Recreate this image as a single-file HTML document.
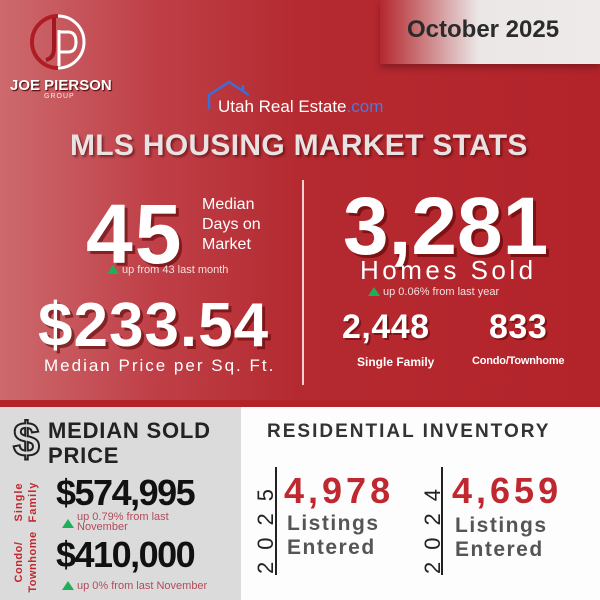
<!DOCTYPE html>
<html><head><style>
*{margin:0;padding:0;box-sizing:border-box}
body{width:600px;height:600px;overflow:hidden;position:relative;font-family:"Liberation Sans",sans-serif}
.a{position:absolute;white-space:nowrap}
.top{position:absolute;left:0;top:0;width:600px;height:407px;background:linear-gradient(90deg,#cc6a6e 0%,#c04048 25%,#b42a30 50%,#b3232a 100%)}
.w{color:#fff;font-weight:bold;text-shadow:3px 3px 0 rgba(80,0,0,.55)}
.tri{display:inline-block;width:0;height:0;border-left:6px solid transparent;border-right:6px solid transparent;border-bottom:9px solid #1fae5a;margin-right:3px;vertical-align:-1px}
</style></head><body>
<div class="top"></div>
<div class="a" style="left:380px;top:0;width:220px;height:64px;background:linear-gradient(90deg,rgba(235,232,232,0) 0%,#ebe7e7 45%,#eeeaea 100%);box-shadow:0 4px 6px rgba(0,0,0,.25)"></div>
<div class="a" style="left:407px;top:16px;font-size:24px;font-weight:bold;color:#2b2b2b">October 2025</div>
<!-- logo -->
<svg class="a" style="left:28px;top:12px" width="60" height="60" viewBox="0 0 60 60">
<circle cx="30" cy="30" r="26" fill="none" stroke="#fff" stroke-width="3"/>
<path d="M30 4 A26 26 0 0 0 30 56" fill="none" stroke="#b01c24" stroke-width="4"/>
<path d="M26 6 L26 36 Q26 46 18 48" fill="none" stroke="#a01820" stroke-width="4"/>
<path d="M31 18 L31 54 M31 20 L40 20 Q48 20 48 30 Q48 40 40 40 L31 40" fill="none" stroke="#fff" stroke-width="3"/>
</svg>
<div class="a" style="left:10px;top:77px;font-size:15px;font-weight:bold;color:#fff;text-shadow:1px 1px 1px #400">JOE PIERSON</div>
<div class="a" style="left:44px;top:93px;font-size:7px;color:#eee;letter-spacing:1px">GROUP</div>
<svg class="a" style="left:207px;top:79px" width="50" height="32"><path d="M2 30 L2 16 L22 3 L42 16 M36 6 L36 12" fill="none" stroke="#3a6fd8" stroke-width="2.5"/></svg>
<div class="a" style="left:218px;top:97px;font-size:17px;color:#fff">Utah Real Estate<span style="color:#4a7ae0">.com</span></div>
<div class="a" style="left:70px;top:129px;font-size:30px;font-weight:bold;color:#e8e2e2;letter-spacing:0.3px;text-shadow:2px 2px 2px rgba(60,0,0,.5)">MLS HOUSING MARKET STATS</div>
<div class="a w" style="left:86px;top:186px;font-size:84px;letter-spacing:2px">45</div>
<div class="a" style="left:202px;top:195px;font-size:16px;line-height:20px;color:#fff">Median<br>Days on<br>Market</div>
<div class="a" style="left:107px;top:264px;font-size:11px;color:#f3e0e0"><span class="tri"></span>up from 43 last month</div>
<div class="a w" style="left:38px;top:290px;font-size:62px;letter-spacing:1px">$233.54</div>
<div class="a" style="left:44px;top:356px;font-size:17px;color:#fff;letter-spacing:2px">Median Price per Sq. Ft.</div>
<div class="a" style="left:302px;top:180px;width:2px;height:205px;background:#f0d0d0"></div>
<div class="a w" style="left:343px;top:180px;font-size:82px">3,281</div>
<div class="a" style="left:360px;top:255px;font-size:26px;color:#fff;letter-spacing:3.5px">Homes Sold</div>
<div class="a" style="left:368px;top:286px;font-size:11px;color:#f3e0e0"><span class="tri"></span>up 0.06% from last year</div>
<div class="a w" style="left:342px;top:308px;font-size:34px;letter-spacing:0.5px;text-shadow:2px 2px 0 rgba(80,0,0,.5)">2,448</div>
<div class="a w" style="left:489px;top:308px;font-size:34px;letter-spacing:0.5px;text-shadow:2px 2px 0 rgba(80,0,0,.5)">833</div>
<div class="a" style="left:357px;top:355px;font-size:12px;font-weight:bold;color:#fff">Single Family</div>
<div class="a" style="left:472px;top:355px;font-size:11px;font-weight:bold;color:#fff;letter-spacing:-0.2px">Condo/Townhome</div>
<!-- bottom -->
<div class="a" style="left:0;top:400px;width:600px;height:7px;background:#b3232a"></div>
<div class="a" style="left:0;top:407px;width:241px;height:193px;background:#dcdbdb"></div>
<div class="a" style="left:241px;top:407px;width:359px;height:193px;background:#fdfdfd"></div>
<div class="a" style="left:13px;top:413px;font-size:48px;color:#dcdbdb;-webkit-text-stroke:2px #222;font-weight:bold">$</div>
<div class="a" style="left:48px;top:418px;font-size:22px;line-height:25px;font-weight:bold;color:#222;letter-spacing:0.8px">MEDIAN SOLD<br>PRICE</div>
<div class="a" style="left:12px;top:530px;transform:rotate(-90deg);transform-origin:0 0;font-size:11px;line-height:14px;font-weight:bold;color:#c0282f;letter-spacing:1px;text-align:center;width:56px">Single<br>Family</div>
<div class="a" style="left:12px;top:598px;transform:rotate(-90deg);transform-origin:0 0;font-size:11px;line-height:14px;font-weight:bold;color:#c0282f;letter-spacing:0.5px;text-align:center;width:72px">Condo/<br>Townhome</div>
<div class="a" style="left:56px;top:472px;font-size:36px;font-weight:bold;color:#111;letter-spacing:-1.5px">$574,995</div>
<div class="a" style="left:62px;top:512px;font-size:11px;line-height:10px;color:#b24a5a"><span class="tri" style="vertical-align:-8px"></span><span style="display:inline-block;vertical-align:top">up 0.79% from last<br>November</span></div>
<div class="a" style="left:56px;top:534px;font-size:36px;font-weight:bold;color:#111;letter-spacing:-1.5px">$410,000</div>
<div class="a" style="left:62px;top:580px;font-size:11px;color:#b24a5a"><span class="tri"></span>up 0% from last November</div>
<div class="a" style="left:267px;top:421px;font-size:19px;font-weight:bold;color:#333;letter-spacing:2px">RESIDENTIAL INVENTORY</div>
<div class="a" style="left:253px;top:574px;transform:rotate(-90deg);transform-origin:0 0;font-size:22px;color:#222;letter-spacing:12px">2025</div>
<div class="a" style="left:275px;top:467px;width:2px;height:108px;background:#222"></div>
<div class="a" style="left:284px;top:470px;font-size:36px;font-weight:bold;color:#c0282f;letter-spacing:4px">4,978</div>
<div class="a" style="left:287px;top:512px;font-size:21px;line-height:24px;font-weight:bold;color:#555;letter-spacing:1.5px">Listings<br>Entered</div>
<div class="a" style="left:420px;top:574px;transform:rotate(-90deg);transform-origin:0 0;font-size:22px;color:#222;letter-spacing:12px">2024</div>
<div class="a" style="left:441px;top:467px;width:2px;height:108px;background:#222"></div>
<div class="a" style="left:452px;top:470px;font-size:36px;font-weight:bold;color:#c0282f;letter-spacing:4px">4,659</div>
<div class="a" style="left:455px;top:514px;font-size:21px;line-height:24px;font-weight:bold;color:#555;letter-spacing:1.5px">Listings<br>Entered</div>
</body></html>
